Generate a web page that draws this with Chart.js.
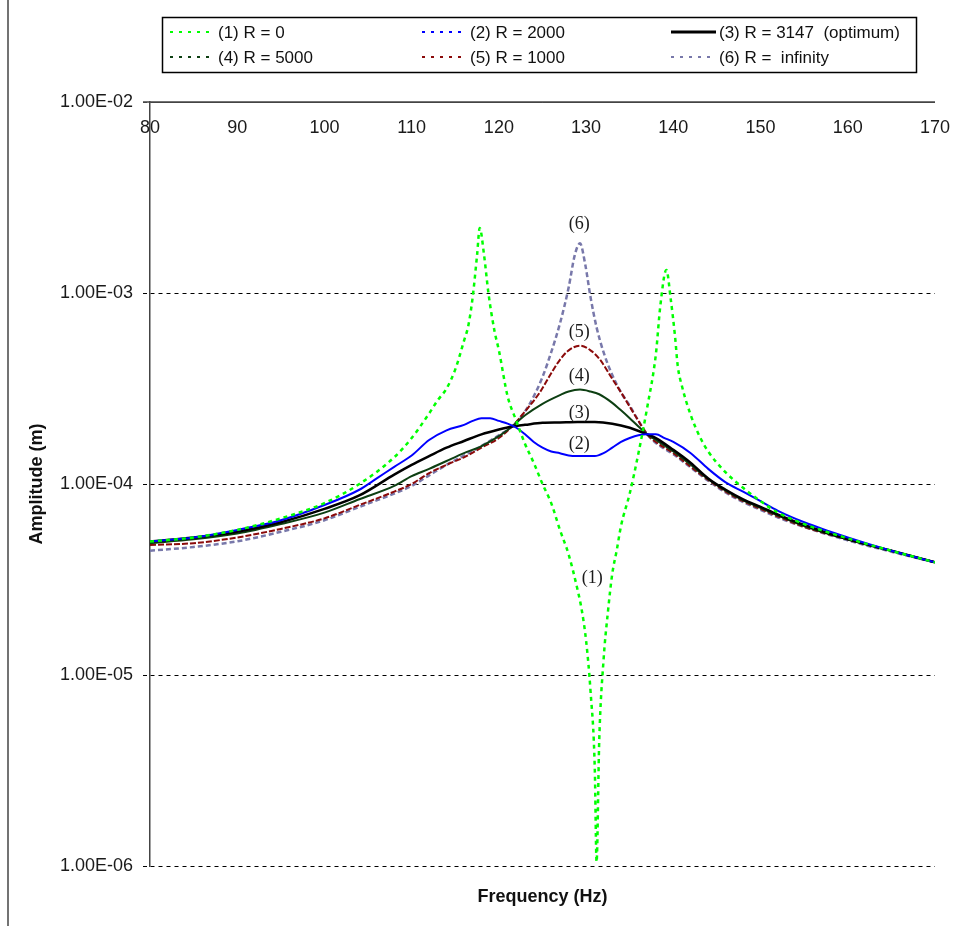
<!DOCTYPE html>
<html>
<head>
<meta charset="utf-8">
<script src="https://cdn.jsdelivr.net/npm/chart.js@4.4.1/dist/chart.umd.min.js"></script>
<style>
  html, body { margin: 0; padding: 0; background: #fff; }
</style>
</head>
<body>
<canvas id="chart" width="964" height="926"></canvas>
<script>
// frequency (Hz) / amplitude (m)
const freq1 = [80, 85, 90, 95, 100, 104, 108, 110, 112, 113, 114, 115, 116, 116.5, 117, 117.5, 117.8, 118.3, 118.8, 119.5, 120, 121, 122, 123, 124, 125, 126, 127, 128, 129, 129.5, 130, 130.5, 131, 131.2, 131.5, 132, 132.5, 133, 133.5, 134, 135, 136, 137, 138, 138.5, 139.2, 139.7, 140.2, 140.5, 141, 142, 143, 144, 146, 148, 150, 152, 155, 160, 165, 170];
const amp1 = [5.0e-5, 5.25e-5, 5.75e-5, 6.61e-5, 7.94e-5, 1.0e-4, 1.38e-4, 1.74e-4, 2.34e-4, 2.75e-4, 3.16e-4, 3.98e-4, 5.62e-4, 6.76e-4, 9.55e-4, 1.58e-3, 2.19e-3, 1.58e-3, 1.0e-3, 6.31e-4, 5.01e-4, 2.88e-4, 2.14e-4, 1.62e-4, 1.29e-4, 1.0e-4, 7.94e-5, 5.75e-5, 4.27e-5, 2.82e-5, 2.19e-5, 1.51e-5, 8.3e-6, 3.16e-6, 1.05e-6, 4.47e-6, 1.2e-5, 2.14e-5, 3.39e-5, 4.47e-5, 6.03e-5, 8.91e-5, 1.45e-4, 2.51e-4, 4.79e-4, 8.5e-4, 1.32e-3, 9.3e-4, 5.89e-4, 4.17e-4, 3.24e-4, 2.29e-4, 1.78e-4, 1.48e-4, 1.15e-4, 9.55e-5, 8.13e-5, 7.08e-5, 6.17e-5, 5.19e-5, 4.47e-5, 3.89e-5];

const freq2 = [80, 85, 90, 95, 100, 104, 106, 108, 110, 112, 114, 116, 117, 118, 119, 120, 121, 122, 123, 124, 125, 126, 127, 128, 129, 130, 131, 132, 133, 134, 135, 136, 137, 138, 139, 140, 142, 144, 146, 148, 150, 152, 155, 160, 165, 170];
const amp2 = [5.0e-5, 5.25e-5, 5.75e-5, 6.46e-5, 7.76e-5, 9.33e-5, 1.07e-4, 1.23e-4, 1.41e-4, 1.70e-4, 1.91e-4, 2.04e-4, 2.14e-4, 2.21e-4, 2.21e-4, 2.14e-4, 2.07e-4, 1.97e-4, 1.82e-4, 1.66e-4, 1.55e-4, 1.48e-4, 1.45e-4, 1.41e-4, 1.40e-4, 1.40e-4, 1.40e-4, 1.45e-4, 1.55e-4, 1.66e-4, 1.74e-4, 1.80e-4, 1.82e-4, 1.82e-4, 1.74e-4, 1.66e-4, 1.45e-4, 1.20e-4, 1.02e-4, 9.12e-5, 8.13e-5, 7.24e-5, 6.31e-5, 5.25e-5, 4.47e-5, 3.89e-5];

const freq3 = [80, 85, 90, 95, 100, 104, 108, 110, 112, 114, 116, 118, 120, 121.5, 123, 125, 127, 129, 131, 133, 135, 137, 138, 140, 142, 144, 146, 148, 150, 152, 155, 160, 165, 170];
const amp3 = [5.0e-5, 5.25e-5, 5.62e-5, 6.31e-5, 7.41e-5, 8.71e-5, 1.12e-4, 1.26e-4, 1.40e-4, 1.55e-4, 1.68e-4, 1.82e-4, 1.93e-4, 2.0e-4, 2.04e-4, 2.09e-4, 2.10e-4, 2.11e-4, 2.11e-4, 2.07e-4, 1.97e-4, 1.82e-4, 1.74e-4, 1.51e-4, 1.29e-4, 1.07e-4, 9.33e-5, 8.32e-5, 7.59e-5, 6.92e-5, 6.10e-5, 5.13e-5, 4.47e-5, 3.89e-5];

const freq4 = [80, 85, 90, 95, 100, 104, 108, 110, 112, 114, 116, 118, 120, 121.5, 123, 125, 127, 128, 129.3, 130.5, 131.5, 133, 134, 135, 136, 137, 138, 140, 142, 144, 146, 148, 150, 152, 155, 160, 165, 170];
const amp4 = [4.90e-5, 5.13e-5, 5.50e-5, 6.17e-5, 7.08e-5, 8.32e-5, 9.77e-5, 1.10e-4, 1.20e-4, 1.32e-4, 1.45e-4, 1.58e-4, 1.78e-4, 2.0e-4, 2.29e-4, 2.63e-4, 2.92e-4, 3.05e-4, 3.12e-4, 3.05e-4, 2.95e-4, 2.66e-4, 2.43e-4, 2.21e-4, 2.0e-4, 1.82e-4, 1.70e-4, 1.48e-4, 1.26e-4, 1.06e-4, 9.23e-5, 8.22e-5, 7.50e-5, 6.84e-5, 6.03e-5, 5.13e-5, 4.47e-5, 3.89e-5];

const freq5 = [80, 85, 90, 95, 100, 104, 108, 110, 112, 114, 116, 118, 120, 121.5, 123, 124.7, 126, 127, 128, 129.3, 130.5, 131.6, 133, 134, 135, 136, 137, 138, 140, 142, 144, 146, 148, 150, 152, 155, 160, 165, 170];
const amp5 = [4.79e-5, 4.90e-5, 5.25e-5, 5.82e-5, 6.61e-5, 7.76e-5, 9.12e-5, 1.0e-4, 1.14e-4, 1.26e-4, 1.38e-4, 1.55e-4, 1.74e-4, 2.0e-4, 2.40e-4, 3.02e-4, 3.80e-4, 4.47e-4, 5.01e-4, 5.30e-4, 5.01e-4, 4.47e-4, 3.55e-4, 3.02e-4, 2.54e-4, 2.14e-4, 1.82e-4, 1.66e-4, 1.45e-4, 1.23e-4, 1.05e-4, 9.12e-5, 8.13e-5, 7.41e-5, 6.76e-5, 5.96e-5, 5.13e-5, 4.47e-5, 3.89e-5];

const freq6 = [80, 85, 90, 95, 100, 104, 108, 110, 112, 114, 116, 118, 120, 121.5, 123, 124, 125, 126, 127, 128, 128.7, 129.3, 129.9, 130.5, 131.2, 132, 133, 134, 135, 136, 137, 138, 140, 142, 144, 146, 148, 150, 152, 155, 160, 165, 170];
const amp6 = [4.47e-5, 4.68e-5, 5.01e-5, 5.62e-5, 6.46e-5, 7.59e-5, 8.91e-5, 9.77e-5, 1.11e-4, 1.26e-4, 1.41e-4, 1.58e-4, 1.80e-4, 2.0e-4, 2.40e-4, 2.88e-4, 3.63e-4, 4.90e-4, 6.92e-4, 1.07e-3, 1.58e-3, 1.82e-3, 1.41e-3, 9.55e-4, 6.61e-4, 4.90e-4, 3.72e-4, 3.02e-4, 2.57e-4, 2.14e-4, 1.82e-4, 1.64e-4, 1.43e-4, 1.22e-4, 1.04e-4, 9.02e-5, 8.04e-5, 7.33e-5, 6.68e-5, 5.96e-5, 5.07e-5, 4.42e-5, 3.89e-5];

const seriesLabels = ['(1) R = 0', '(2) R = 2000', '(3) R = 3147  (optimum)', '(4) R = 5000', '(5) R = 1000', '(6) R =  infinity'];

const xTickValues = [80, 90, 100, 110, 120, 130, 140, 150, 160, 170];
const yTickValues = [1e-6, 1e-5, 1e-4, 1e-3, 1e-2];
const yTickLabels = ['1.00E-06', '1.00E-05', '1.00E-04', '1.00E-03', '1.00E-02'];

// curve tags placed in data coordinates
const tagText = ['(1)', '(2)', '(3)', '(4)', '(5)', '(6)'];
const tagFreq = [130.7, 129.2, 129.2, 129.2, 129.2, 129.2];
const tagAmp = [3.2e-5, 1.62e-4, 2.36e-4, 3.65e-4, 6.2e-4, 2.3e-3];

function pts(fs, as) {
    return fs.map((f, i) => ({ x: f, y: as[i] }));
}

const styles = [
    { color: '#00ff00', width: 2.5, dash: [4, 4], legendDash: [3, 6] },
    { color: '#0000ff', width: 2, dash: [], legendDash: [3, 6] },
    { color: '#000000', width: 2.5, dash: [], legendDash: [] },
    { color: '#0d3f12', width: 2, dash: [], legendDash: [3, 6] },
    { color: '#8b0a0a', width: 2, dash: [6, 2], legendDash: [3, 6] },
    { color: '#7878aa', width: 2.5, dash: [5, 3], legendDash: [3, 6] }
];

const allData = [
    pts(freq1, amp1), pts(freq2, amp2), pts(freq3, amp3),
    pts(freq4, amp4), pts(freq5, amp5), pts(freq6, amp6)
];

const datasets = allData.map((d, i) => ({
    label: seriesLabels[i],
    data: d,
    borderColor: styles[i].color,
    borderWidth: styles[i].width,
    borderDash: styles[i].dash,
    pointRadius: 0,
    fill: false,
    cubicInterpolationMode: 'monotone'
}));

const extras = {
    id: 'extras',
    afterDraw(chart) {
        const ctx = chart.ctx;
        const area = chart.chartArea;
        const xs = chart.scales.x;
        const ys = chart.scales.y;
        ctx.save();

        // outer frame edge
        ctx.strokeStyle = '#444';
        ctx.lineWidth = 1.5;
        ctx.beginPath();
        ctx.moveTo(8, 0);
        ctx.lineTo(8, 926);
        ctx.stroke();

        // solid top line at 1e-2
        const yt = ys.getPixelForValue(1e-2);
        ctx.beginPath();
        ctx.moveTo(area.left - 7, yt);
        ctx.lineTo(area.right, yt);
        ctx.stroke();

        // x tick labels, inside, just under the top line
        ctx.fillStyle = '#1a1a1a';
        ctx.font = '18px "Liberation Sans", Arial, sans-serif';
        ctx.textAlign = 'center';
        ctx.textBaseline = 'middle';
        xTickValues.forEach(v => {
            ctx.fillText(String(v), xs.getPixelForValue(v), area.top + 26);
        });

        // curve tags
        ctx.font = '18px "Liberation Serif", "Times New Roman", serif';
        tagText.forEach((t, i) => {
            ctx.fillText(t, xs.getPixelForValue(tagFreq[i]), ys.getPixelForValue(tagAmp[i]));
        });

        // legend box
        ctx.strokeStyle = '#000';
        ctx.lineWidth = 1.5;
        ctx.strokeRect(162.5, 17.5, 754, 55);
        const colX = [170, 422, 671];
        const rowY = [32, 57];
        ctx.font = '17px "Liberation Sans", Arial, sans-serif';
        ctx.textAlign = 'left';
        chart.data.datasets.forEach((ds, i) => {
            const x = colX[i % 3];
            const y = rowY[Math.floor(i / 3)];
            ctx.strokeStyle = ds.borderColor;
            ctx.lineWidth = i === 2 ? 3 : 2;
            ctx.setLineDash(styles[i].legendDash);
            ctx.beginPath();
            ctx.moveTo(x, y);
            ctx.lineTo(x + 45, y);
            ctx.stroke();
            ctx.setLineDash([]);
            ctx.fillStyle = '#111';
            ctx.fillText(ds.label, x + 48, y + 1);
        });

        ctx.restore();
    }
};

new Chart(document.getElementById('chart').getContext('2d'), {
    type: 'line',
    data: { datasets: datasets },
    options: {
        responsive: false,
        animation: false,
        layout: { padding: { top: 102, right: 29, left: 0, bottom: 0 } },
        plugins: {
            legend: { display: false },
            tooltip: { enabled: false }
        },
        scales: {
            x: {
                type: 'linear',
                min: 80,
                max: 170,
                ticks: { display: false },
                grid: { display: false },
                border: { display: false },
                title: {
                    display: true,
                    text: 'Frequency (Hz)',
                    color: '#111',
                    font: { family: '"Liberation Sans", Arial, sans-serif', size: 18, weight: 'bold' },
                    padding: { top: 0, bottom: 18 }
                },
                afterFit: (s) => { s.height = 60; }
            },
            y: {
                type: 'logarithmic',
                min: 1e-6,
                max: 1e-2,
                afterBuildTicks: (s) => { s.ticks = yTickValues.map(v => ({ value: v })); },
                ticks: {
                    autoSkip: false,
                    padding: 10,
                    color: '#1a1a1a',
                    font: { family: '"Liberation Sans", Arial, sans-serif', size: 18 },
                    callback: (v, i) => yTickLabels[i]
                },
                grid: {
                    color: (c) => (c.tick && c.tick.value === 1e-2) ? '#444' : '#000',
                    lineWidth: 1,
                    tickLength: 7,
                    tickBorderDash: [4, 4]
                },
                border: {
                    display: true,
                    color: '#444',
                    width: 1.5,
                    dash: (c) => (c.tick && c.tick.value === 1e-2) ? [] : [4, 4]
                },
                title: {
                    display: true,
                    text: 'Amplitude (m)',
                    color: '#111',
                    font: { family: '"Liberation Sans", Arial, sans-serif', size: 18, weight: 'bold' },
                    padding: { top: 26, bottom: 0 }
                },
                afterFit: (s) => { s.width = 150; }
            }
        }
    },
    plugins: [extras]
});
</script>
</body>
</html>
